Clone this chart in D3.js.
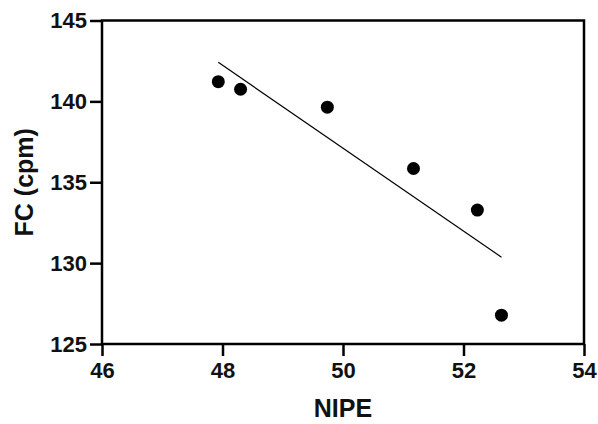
<!DOCTYPE html>
<html>
<head>
<meta charset="utf-8">
<script src="https://cdn.jsdelivr.net/npm/d3@7"></script>
<style>
	body { margin: 0; background: #fff; }
	svg { display: block; }
	text { font-family: "Liberation Sans", Arial, sans-serif; font-weight: bold; fill: #111; }
</style>
</head>
<body>
<div id="chart"></div>
<script>
// data
const nipe = [47.93, 48.30, 49.74, 51.17, 52.23, 52.63];
const fc = [141.22, 140.75, 139.64, 135.85, 133.28, 126.78];
const xTicks = [46, 48, 50, 52, 54];
const yTicks = [125, 130, 135, 140, 145];

const W = 598, H = 424;
const margin = {left: 102, right: 14, top: 20.5, bottom: 80};

const svg = d3.select('#chart')
	.append('svg')
	.attr('width', W)
	.attr('height', H);

const x = d3.scaleLinear()
	.domain([46, 54])
	.range([margin.left, W - margin.right]);

const y = d3.scaleLinear()
	.domain([125, 145])
	.range([H - margin.bottom, margin.top]);

//frame
svg.append('rect')
	.attr('x', x(46))
	.attr('y', y(145))
	.attr('width', x(54) - x(46))
	.attr('height', y(125) - y(145))
	.style('fill', 'none')
	.style('stroke', '#000')
	.style('stroke-width', '2.5px');

//axes
const xAxis = svg.append('g')
	.attr('transform', 'translate(0,' + y(125) + ')')
	.call(d3.axisBottom(x).tickValues(xTicks).tickSize(12).tickPadding(6).tickFormat(d3.format('d')));

const yAxis = svg.append('g')
	.attr('transform', 'translate(' + x(46) + ',0)')
	.call(d3.axisLeft(y).tickValues(yTicks).tickSize(12).tickPadding(3).tickFormat(d3.format('d')));

[xAxis, yAxis].forEach(function(a){
	a.select('.domain').remove();
	a.selectAll('line').style('stroke', '#000').style('stroke-width', '2.5px');
	a.selectAll('text')
		.style('font-size', '22px')
		.style('font-family', '"Liberation Sans", Arial, sans-serif')
		.style('font-weight', 'bold')
		.style('fill', '#111');
});

//regression line from the points
const mx = d3.mean(nipe), my = d3.mean(fc);
let sxy = 0, sxx = 0;
nipe.forEach(function(d, i){
	sxy += (d - mx) * (fc[i] - my);
	sxx += (d - mx) * (d - mx);
});
const slope = sxy / sxx;
const x0 = d3.min(nipe), x1 = d3.max(nipe);

svg.append('line')
	.attr('x1', x(x0))
	.attr('y1', y(my + slope * (x0 - mx)))
	.attr('x2', x(x1))
	.attr('y2', y(my + slope * (x1 - mx)))
	.style('stroke', '#000')
	.style('stroke-width', '1.2px');

//points
svg.selectAll('circle.pt')
	.data(nipe)
	.enter()
	.append('circle')
	.attr('class', 'pt')
	.attr('cx', function(d){ return x(d); })
	.attr('cy', function(d, i){ return y(fc[i]); })
	.attr('r', 6.5)
	.style('fill', '#000');

//titles
svg.append('text')
	.attr('x', (x(46) + x(54)) / 2)
	.attr('y', 417)
	.attr('text-anchor', 'middle')
	.style('font-size', '25px')
	.text('NIPE');

svg.append('text')
	.attr('transform', 'translate(33,' + (y(125) + y(145)) / 2 + ') rotate(-90)')
	.attr('text-anchor', 'middle')
	.style('font-size', '25px')
	.text('FC (cpm)');
</script>
</body>
</html>
